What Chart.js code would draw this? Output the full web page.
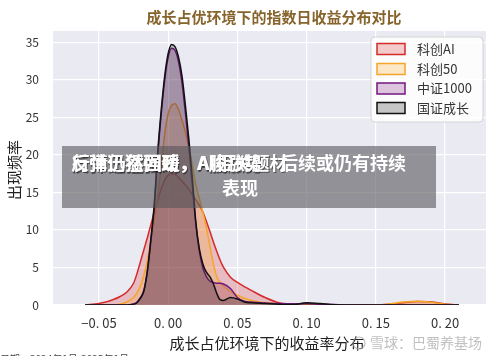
<!DOCTYPE html>
<html>
<head>
<meta charset="utf-8">
<script src="https://cdn.jsdelivr.net/npm/chart.js@4"></script>
<style>
  body { margin: 0; background: #fff; }
  #wrap { width: 500px; height: 356px; position: relative; }
</style>
</head>
<body>
<div id="wrap"><canvas id="kde"></canvas></div>
<script>
// daily return grid (x) and density values
const xs = [-0.06, -0.05, -0.045, -0.04, -0.035, -0.03, -0.025, -0.0225, -0.02, -0.0175,
  -0.015, -0.0125, -0.01, -0.0075, -0.005, -0.0025, 0, 0.0025, 0.005, 0.0075,
  0.01, 0.0125, 0.015, 0.0175, 0.02, 0.0225, 0.025, 0.0275, 0.03, 0.0325,
  0.035, 0.0375, 0.04, 0.045, 0.05, 0.055, 0.06, 0.07, 0.08, 0.09,
  0.1, 0.11, 0.12, 0.13, 0.14, 0.15, 0.16, 0.17, 0.18, 0.19, 0.2, 0.21];

const kechuangAI = [0, 0.2, 0.4, 0.7, 1.1, 1.7, 2.9, 4.2, 5.8, 7.4,
  9.0, 10.7, 12.4, 14.0, 15.5, 16.7, 17.3, 17.5, 17.4, 17.0,
  16.5, 16.0, 15.4, 14.7, 14.0, 13.3, 12.4, 11.2, 9.9, 8.5,
  7.2, 6.0, 5.0, 3.7, 3.0, 2.45, 1.95, 1.0, 0.3, 0.1,
  0.05, 0.02, 0, 0, 0, 0, 0.1, 0.3, 0.45, 0.4, 0.15, 0];

const kechuang50 = [0, 0, 0, 0, 0.1, 0.4, 1.0, 1.6, 2.6, 4.0,
  6.0, 8.6, 11.5, 14.5, 18.5, 22.8, 25.5, 26.6, 26.8, 26.0,
  24.6, 23.0, 21.0, 18.6, 16.0, 14.2, 12.4, 10.4, 8.0, 5.6,
  3.8, 3.0, 2.5, 1.8, 1.3, 0.9, 0.6, 0.3, 0.15, 0.08,
  0.05, 0.03, 0.02, 0, 0, 0.02, 0.15, 0.4, 0.5, 0.35, 0.1, 0];

const zz1000 = [0, 0, 0, 0, 0, 0, 0.15, 0.4, 1.0, 2.0,
  4.5, 8.5, 13.2, 20.0, 25.5, 30.0, 33.0, 34.2, 33.9, 32.4,
  29.6, 25.5, 21.0, 15.8, 10.8, 7.2, 5.0, 3.8, 3.2, 3.0,
  2.9, 2.9, 2.8, 2.2, 1.0, 0.5, 0.4, 0.25, 0.2, 0.15,
  0.2, 0.1, 0.05, 0, 0, 0, 0, 0, 0, 0, 0, 0];

const gzGrowth = [0, 0, 0, 0, 0, 0, 0.1, 0.3, 0.9, 1.9,
  4.6, 8.8, 13.5, 20.5, 26.0, 30.5, 33.5, 34.7, 34.4, 33.0,
  30.5, 26.5, 22.0, 16.8, 11.0, 7.5, 5.5, 4.4, 3.8, 2.9,
  1.6, 0.7, 0.6, 1.0, 0.8, 0.4, 0.3, 0.2, 0.1, 0.05,
  0.3, 0.2, 0.02, 0, 0, 0, 0, 0, 0, 0, 0, 0];

const seriesNames = ["科创AI", "科创50", "中证1000", "国证成长"];
const lineColors = ["#d42a2a", "#f5a52a", "#74167f", "#111111"];
const fillColors = ["rgba(220,50,50,0.25)", "rgba(250,170,40,0.25)", "rgba(128,30,130,0.25)", "rgba(30,30,30,0.25)"];

const xTicks = [-0.05, 0, 0.05, 0.1, 0.15, 0.2];
const xTickLabels = ["−0. 05", "0. 00", "0. 05", "0. 10", "0. 15", "0. 20"];
const yTicks = [0, 5, 10, 15, 20, 25, 30, 35];

const FONT = "'Noto Sans CJK SC', 'Noto Sans', sans-serif";

const allSeries = [kechuangAI, kechuang50, zz1000, gzGrowth];
const datasets = allSeries.map((vals, i) => ({
  label: seriesNames[i],
  data: xs.map((x, j) => ({ x: x, y: vals[j] })),
  borderColor: lineColors[i],
  backgroundColor: fillColors[i],
  borderWidth: 1.5,
  fill: "origin",
  pointRadius: 0,
  cubicInterpolationMode: "monotone",
  order: allSeries.length - i
}));

const decor = {
  id: "decor",
  beforeDraw(chart) {
    const { ctx, chartArea: a } = chart;
    ctx.save();
    ctx.fillStyle = "#fff";
    ctx.fillRect(0, 0, chart.width, chart.height);
    ctx.fillStyle = "#eaeaf2";
    ctx.fillRect(a.left, a.top, a.right - a.left, a.bottom - a.top);
    ctx.restore();
  },
  afterDraw(chart) {
    const { ctx } = chart;
    ctx.save();

    // title
    ctx.fillStyle = "#86642c";
    ctx.font = "bold 15px " + FONT;
    ctx.textAlign = "center";
    ctx.textBaseline = "middle";
    ctx.fillText("成长占优环境下的指数日收益分布对比", 274, 17);

    // axis titles
    ctx.fillStyle = "#222";
    ctx.font = "15px " + FONT;
    ctx.fillText("成长占优环境下的收益率分布", 267, 343);
    ctx.save();
    ctx.translate(14, 170);
    ctx.rotate(-Math.PI / 2);
    ctx.fillText("出现频率", 0, 0);
    ctx.restore();

    // legend
    ctx.beginPath();
    ctx.roundRect(371, 37, 112, 85, 4);
    ctx.fillStyle = "rgba(255,255,255,0.85)";
    ctx.fill();
    ctx.strokeStyle = "#d4d4d4";
    ctx.lineWidth = 1;
    ctx.stroke();
    const rows = [49, 69, 88.5, 108];
    ctx.textAlign = "left";
    ctx.font = "13px " + FONT;
    seriesNames.forEach((name, i) => {
      ctx.fillStyle = fillColors[i];
      ctx.fillRect(377, rows[i] - 5.5, 28, 11);
      ctx.strokeStyle = lineColors[i];
      ctx.lineWidth = 1.5;
      ctx.strokeRect(377, rows[i] - 5.5, 28, 11);
      ctx.fillStyle = "#333";
      ctx.fillText(name, 417, rows[i]);
    });

    // grey banner overlay, two captions drawn on top of each other
    ctx.fillStyle = "rgba(85,85,90,0.6)";
    ctx.fillRect(62, 146, 374, 62);
    ctx.font = "bold 18px " + FONT;
    ctx.textAlign = "left";
    ctx.fillStyle = "rgba(30,30,30,0.55)";
    ctx.fillText("行情仍然回暖，AI相关题材", 73, 164);
    ctx.fillText("反弹迅猛强劲，A股涨势", 72, 165);
    ctx.fillStyle = "#fff";
    ctx.fillText("反弹迅猛强劲，A股涨势", 71, 163);
    ctx.fillText("行情仍然回暖，AI相关题材", 72, 163);
    ctx.fillText("后续或仍有持续", 280, 163);
    ctx.textAlign = "center";
    ctx.fillText("表现", 240, 188);

    // watermark
    ctx.fillStyle = "rgba(165,165,165,0.7)";
    ctx.strokeStyle = "rgba(165,165,165,0.7)";
    ctx.lineWidth = 1.2;
    ctx.beginPath();
    ctx.arc(359, 343, 6, 0, Math.PI * 2);
    ctx.stroke();
    ctx.font = "14px " + FONT;
    ctx.textAlign = "left";
    ctx.fillText("雪球：巴蜀养基场", 370, 343);

    // footnote, cut off by the bottom edge
    ctx.fillStyle = "#444";
    ctx.font = "10px " + FONT;
    ctx.fillText("日期：2024年1月-2025年1月", 0, 359);
    ctx.restore();
  }
};

new Chart(document.getElementById("kde"), {
  type: "line",
  data: { datasets: datasets },
  options: {
    responsive: true,
    maintainAspectRatio: false,
    animation: false,
    layout: { padding: { top: 31, right: 14, left: 0, bottom: 0 } },
    plugins: { legend: { display: false }, title: { display: false }, tooltip: { enabled: false } },
    scales: {
      x: {
        type: "linear",
        min: -0.0832,
        max: 0.2296,
        afterBuildTicks: s => { s.ticks = xTicks.map(v => ({ value: v })); },
        afterFit: s => { s.height = 51; },
        grid: { color: "#fff", lineWidth: 1.2, drawTicks: false },
        border: { display: false },
        ticks: {
          padding: 10,
          color: "#333",
          font: { family: FONT, size: 13 },
          maxRotation: 0,
          callback: v => xTickLabels[xTicks.findIndex(t => Math.abs(t - v) < 1e-9)]
        }
      },
      y: {
        min: 0,
        max: 36.5,
        afterBuildTicks: s => { s.ticks = yTicks.map(v => ({ value: v })); },
        afterFit: s => { s.width = 53; },
        grid: { color: "#fff", lineWidth: 1.2, drawTicks: false },
        border: { display: false },
        ticks: {
          padding: 14,
          color: "#333",
          font: { family: FONT, size: 12 }
        }
      }
    }
  },
  plugins: [decor]
});
</script>
</body>
</html>
